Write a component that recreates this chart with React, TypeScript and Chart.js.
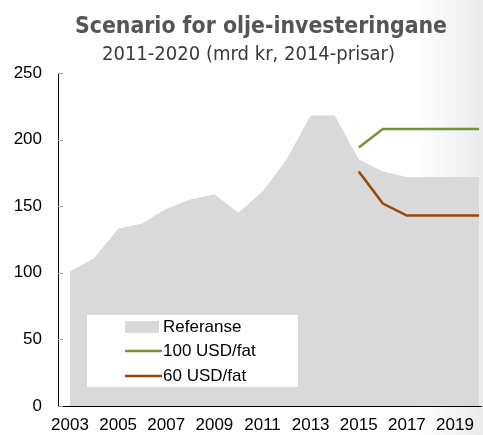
import React, { useEffect, useRef } from "react";
import { Chart, registerables } from "chart.js";

Chart.register(...registerables);

const years = [2003, 2004, 2005, 2006, 2007, 2008, 2009, 2010, 2011, 2012, 2013, 2014, 2015, 2016, 2017, 2018, 2019, 2020];
const referanse = [101, 111, 133, 137, 148, 155, 159, 145, 161, 185, 218, 218, 185, 176, 172, 172, 172, 172];
const scenarioYears = [2015, 2016, 2017, 2018, 2019, 2020];
const usd100 = [194, 208, 208, 208, 208, 208];
const usd60 = [176, 152, 143, 143, 143, 143];
const xTickYears = [2003, 2005, 2007, 2009, 2011, 2013, 2015, 2017, 2019];
const yTicks = [0, 50, 100, 150, 200, 250];

const titleText = "Scenario for olje-investeringane";
const subtitleText = "2011-2020 (mrd kr, 2014-prisar)";
const legendLabels = ["Referanse", "100 USD/fat", "60 USD/fat"];

const AREA = "#D9D9D9";
const GREEN = "#76923C";
const BROWN = "#974806";

function drawFitted(ctx: CanvasRenderingContext2D, text: string, left: number, width: number, baseline: number) {
  const w = ctx.measureText(text).width;
  const sx = width / w;
  ctx.save();
  ctx.translate(left, baseline);
  ctx.scale(sx, 1);
  ctx.textAlign = "left";
  ctx.textBaseline = "alphabetic";
  ctx.fillText(text, 0, 0);
  ctx.restore();
}

const decorPlugin = {
  id: "decor",
  afterDatasetsDraw(chart: any) {
    const ctx = chart.ctx as CanvasRenderingContext2D;
    const area = chart.chartArea;
    const yScale = chart.scales.y;
    // inward tick marks
    ctx.save();
    ctx.strokeStyle = "#a6a6a6";
    ctx.lineWidth = 1;
    yTicks.forEach((v) => {
      const y = Math.round(yScale.getPixelForValue(v)) + 0.5;
      ctx.beginPath();
      ctx.moveTo(area.left, y);
      ctx.lineTo(area.left + 5, y);
      ctx.stroke();
    });
    ctx.restore();

    // legend box
    ctx.save();
    ctx.fillStyle = "#ffffff";
    ctx.fillRect(87, 315, 211, 72);
    ctx.fillStyle = AREA;
    ctx.fillRect(125, 321, 34, 12);
    ctx.lineWidth = 2.5;
    ctx.strokeStyle = GREEN;
    ctx.beginPath();
    ctx.moveTo(125, 351);
    ctx.lineTo(162, 351);
    ctx.stroke();
    ctx.strokeStyle = BROWN;
    ctx.beginPath();
    ctx.moveTo(125, 376);
    ctx.lineTo(162, 376);
    ctx.stroke();
    ctx.fillStyle = "#000";
    ctx.font = "17px 'Liberation Sans', Arial, sans-serif";
    ctx.textAlign = "left";
    ctx.textBaseline = "middle";
    ctx.fillText(legendLabels[0], 163, 327);
    ctx.fillText(legendLabels[1], 163, 351);
    ctx.fillText(legendLabels[2], 163, 376);
    ctx.restore();
  },
  afterDraw(chart: any) {
    const ctx = chart.ctx as CanvasRenderingContext2D;
    ctx.save();
    ctx.fillStyle = "#555555";
    ctx.font = "bold 23px 'DejaVu Sans', sans-serif";
    drawFitted(ctx, titleText, 75, 372, 33);
    ctx.fillStyle = "#3a3a3a";
    ctx.font = "19px 'DejaVu Sans', sans-serif";
    drawFitted(ctx, subtitleText, 102, 293, 60);
    ctx.restore();
  },
};

export default function App() {
  const ref = useRef<HTMLCanvasElement>(null);

  useEffect(() => {
    if (!ref.current) return;
    const chart = new Chart(ref.current, {
      type: "line",
      data: {
        datasets: [
          {
            label: legendLabels[0],
            data: years.map((x, i) => ({ x, y: referanse[i] })),
            fill: "origin",
            backgroundColor: AREA,
            borderWidth: 0,
            borderColor: AREA,
            pointRadius: 0,
            tension: 0,
            order: 3,
          },
          {
            label: legendLabels[1],
            data: scenarioYears.map((x, i) => ({ x, y: usd100[i] })),
            fill: false,
            borderColor: GREEN,
            borderWidth: 2.5,
            pointRadius: 0,
            tension: 0,
            order: 1,
          },
          {
            label: legendLabels[2],
            data: scenarioYears.map((x, i) => ({ x, y: usd60[i] })),
            fill: false,
            borderColor: BROWN,
            borderWidth: 2.5,
            pointRadius: 0,
            tension: 0,
            order: 2,
          },
        ],
      },
      options: {
        responsive: false,
        animation: false,
        layout: { padding: { top: 73, right: 1, left: 0, bottom: 0 } },
        plugins: {
          legend: { display: false },
          title: { display: false },
          tooltip: { enabled: false },
        },
        scales: {
          x: {
            type: "linear",
            min: 2002.5,
            max: 2020.08,
            grid: { display: false, drawTicks: false },
            border: { display: true, color: "#000", width: 1 },
            afterBuildTicks: (s: any) => {
              s.ticks = xTickYears.map((v) => ({ value: v }));
            },
            afterFit: (s: any) => {
              s.height = 29;
            },
            ticks: {
              autoSkip: false,
              maxRotation: 0,
              padding: 9,
              color: "#000",
              font: { family: "'Liberation Sans', Arial, sans-serif", size: 17 },
              callback: (v: any) => String(v),
            },
          },
          y: {
            min: 0,
            max: 250,
            grid: { display: false, drawTicks: false },
            border: { display: true, color: "#000", width: 1 },
            afterBuildTicks: (s: any) => {
              s.ticks = yTicks.map((v) => ({ value: v }));
            },
            afterFit: (s: any) => {
              s.width = 58;
            },
            ticks: {
              padding: 16,
              color: "#000",
              font: { family: "'Liberation Sans', Arial, sans-serif", size: 17 },
              callback: (v: any) => String(v),
            },
          },
        },
      },
      plugins: [decorPlugin],
    });
    return () => chart.destroy();
  }, []);

  return (
    <div
      style={{
        position: "absolute",
        left: 0,
        top: 0,
        width: 483,
        height: 435,
        background: "linear-gradient(to right, #ffffff 0%, #ffffff 86%, #ebebeb 100%)",
      }}
    >
      <canvas ref={ref} width={483} height={435} style={{ display: "block" }} />
    </div>
  );
}
